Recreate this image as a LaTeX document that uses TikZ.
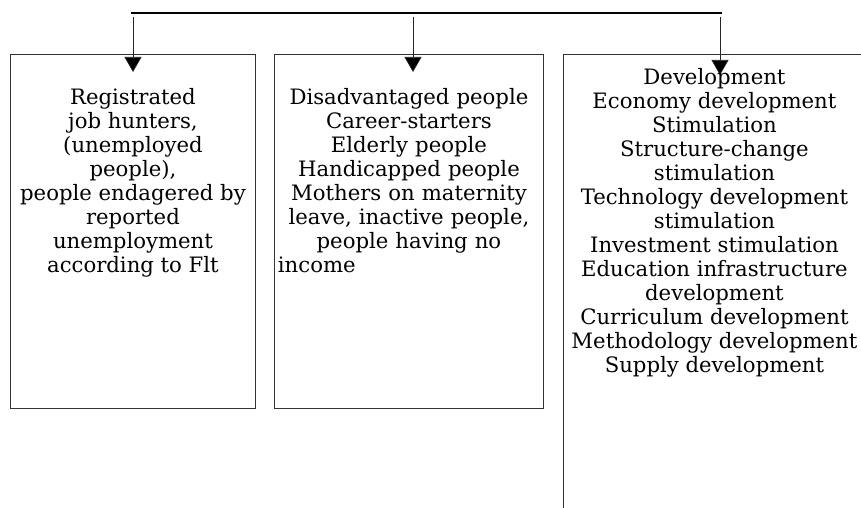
\documentclass[tikz,border=0pt]{standalone}
\usepackage{fontspec}
\setmainfont{DejaVu Serif}
\usetikzlibrary{arrows.meta,positioning}

\begin{document}
\begin{tikzpicture}[x=1pt, y=-1pt,
  panel/.style={draw=black!80, line width=0.9pt, anchor=north west, inner sep=0pt,
                minimum height=354pt},
  txt/.style={font=\fontsize{21.2}{24}\selectfont, align=center, inner sep=0pt, anchor=north},
  arr/.style={-{Triangle[length=15pt,width=17pt,fill=black]}, line width=0.7pt, black!85},
  bus/.style={line width=2pt}
]
\clip (0,0) rectangle (861,508);

%% three target groups
\node[panel, minimum width=245pt] (box1) at (10,54) {};
\node[panel, minimum width=269pt] (box2) at (274,54) {};
\node[panel, minimum width=302pt, minimum height=480pt] (box3) at (563,54) {};

%% distribution line and arrows
\coordinate (busL) at (131,13);
\coordinate (busR) at (722,13);
\draw[bus] (busL) -- (busR);
\coordinate (drop1) at (133,17);
\coordinate (drop2) at (413,17);
\coordinate (drop3) at (720,17);
\coordinate (tip1) at (133,72);
\coordinate (tip2) at (413,72);
\coordinate (tip3) at (720,75);
\draw[arr] (drop1) -- (tip1);
\draw[arr] (drop2) -- (tip2);
\draw[arr] (drop3) -- (tip3);

%% box contents
\node[txt] (who1) at ([yshift=-34pt]box1.north)
  {Registrated\\job hunters,\\(unemployed\\people),\\people endagered by\\reported\\unemployment\\according to Flt};
\node[txt, text width=262pt] (who2) at ([yshift=-34pt]box2.north)
  {Disadvantaged people\\Career-starters\\Elderly people\\Handicapped people\\Mothers on maternity\\leave, inactive people,\\people having no\\\hbox to \hsize{income\hfil}};
\node[txt] (what3) at ([yshift=-14pt]box3.north)
  {Development\\Economy development\\Stimulation\\Structure-change\\stimulation\\Technology development\\stimulation\\Investment stimulation\\Education infrastructure\\development\\Curriculum development\\Methodology development\\Supply development};
\end{tikzpicture}
\end{document}
